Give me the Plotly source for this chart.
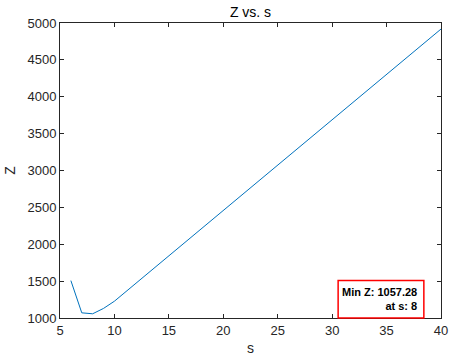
import plotly.graph_objects as go

s_values = [6, 7, 8, 9, 10, 11, 12, 13, 14, 15, 16, 17, 18, 19, 20, 21, 22, 23,
            24, 25, 26, 27, 28, 29, 30, 31, 32, 33, 34, 35, 36, 37, 38, 39, 40]
z_values = [1507, 1070, 1057.28, 1130, 1228, 1351, 1474, 1597, 1720, 1843, 1966,
            2089, 2212, 2335, 2458, 2581, 2704, 2827, 2950, 3073, 3196, 3319,
            3442, 3565, 3688, 3811, 3934, 4057, 4180, 4303, 4426, 4549, 4672,
            4795, 4918]
x_ticks = [5, 10, 15, 20, 25, 30, 35, 40]
y_ticks = [1000, 1500, 2000, 2500, 3000, 3500, 4000, 4500, 5000]

zmin = min(z_values)
smin = s_values[z_values.index(zmin)]

axis_color = "#262626"
font_family = "Arial, Liberation Sans, sans-serif"

fig = go.Figure()
fig.add_trace(go.Scatter(x=s_values, y=z_values, mode="lines",
                         line=dict(color="#0072BD", width=1), showlegend=False))

common_axis = dict(showgrid=False, zeroline=False, showline=True, linecolor=axis_color,
                   linewidth=1, mirror="ticks", ticks="inside", ticklen=4,
                   tickcolor=axis_color, tickwidth=1, automargin=False,
                   tickfont=dict(family=font_family, size=13, color=axis_color))

fig.update_xaxes(range=[5, 40], tickvals=x_ticks, ticktext=[str(v) for v in x_ticks],
                 title=dict(text="s", font=dict(family=font_family, size=14, color=axis_color),
                            standoff=6), **common_axis)
fig.update_yaxes(range=[1000, 5000], tickvals=y_ticks, ticktext=[str(v) for v in y_ticks],
                 title=dict(text="Z", font=dict(family=font_family, size=14, color=axis_color),
                            standoff=8), **common_axis)

fig.add_shape(type="rect", xref="paper", yref="paper", x0=0.73, x1=0.955, y0=0.0, y1=0.127,
              line=dict(color="#FF0000", width=1.5), fillcolor="white", layer="above")
fig.add_annotation(xref="paper", yref="paper", x=0.942, y=0.063, xanchor="right", yanchor="middle",
                   align="right", showarrow=False,
                   text=f"<b>Min Z: {zmin:.2f}</b><br><b>at s: {smin}</b>",
                   font=dict(family=font_family, size=11, color="#000000"))

fig.update_layout(
    width=453, height=363,
    margin=dict(l=60, r=12, t=22.5, b=44.5),
    paper_bgcolor="white", plot_bgcolor="white",
    title=dict(text="Z vs. s", x=0.5, xref="paper", xanchor="center", y=0.967, yanchor="middle",
               font=dict(family=font_family, size=14, color="#000000")),
)

fig.write_html("out.html", config={"displayModeBar": False},
               post_script="document.body.style.margin='0';")
